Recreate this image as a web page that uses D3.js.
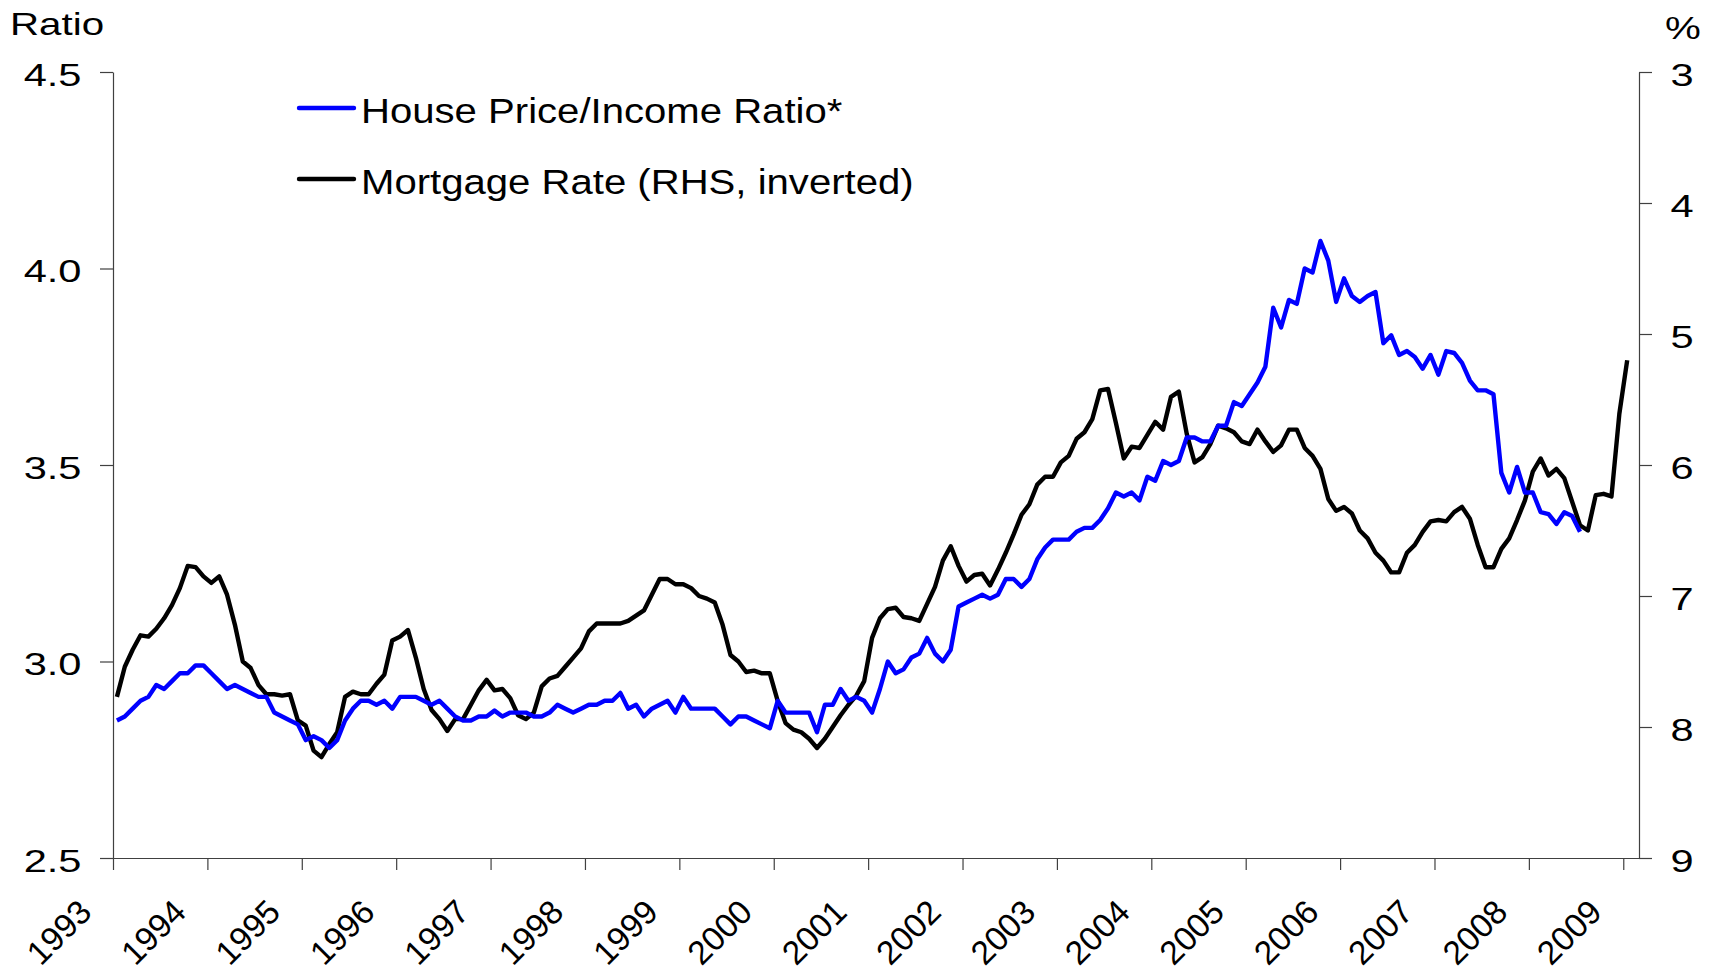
<!DOCTYPE html>
<html>
<head>
<meta charset="utf-8">
<script src="https://cdn.jsdelivr.net/npm/d3@7"></script>
<style>
  body { margin: 0; background: #fff; }
  text { font-family: "Liberation Sans", Arial, sans-serif; fill: #000; }
</style>
</head>
<body>
<div class="chart"></div>
<script>
var svgWidth = 1713;
var svgHeight = 974;

var margin = { top: 72, right: 74, bottom: 116, left: 113 };
var width = svgWidth - margin.left - margin.right;
var height = svgHeight - margin.top - margin.bottom;

// monthly data, first point = Jan 1993
var startYear = 1993;

// house price / income ratio (left axis)
var ratio = [
  2.85, 2.86, 2.88, 2.90, 2.91, 2.94, 2.93, 2.95, 2.97, 2.97, 2.99, 2.99,
  2.97, 2.95, 2.93, 2.94, 2.93, 2.92, 2.91, 2.91, 2.87, 2.86, 2.85, 2.84,
  2.80, 2.81, 2.80, 2.78, 2.80, 2.85, 2.88, 2.90, 2.90, 2.89, 2.90, 2.88,
  2.91, 2.91, 2.91, 2.90, 2.89, 2.90, 2.88, 2.86, 2.85, 2.85, 2.86, 2.86,
  2.875, 2.86, 2.87, 2.87, 2.87, 2.86, 2.86, 2.87, 2.89, 2.88, 2.87, 2.88,
  2.89, 2.89, 2.90, 2.90, 2.92, 2.88, 2.89, 2.86, 2.88, 2.89, 2.90, 2.87,
  2.91, 2.88, 2.88, 2.88, 2.88, 2.86, 2.84, 2.86, 2.86, 2.85, 2.84, 2.83,
  2.90, 2.87, 2.87, 2.87, 2.87, 2.82, 2.89, 2.89, 2.93, 2.90, 2.91, 2.90,
  2.87, 2.93, 3.00, 2.97, 2.98, 3.01, 3.02, 3.06, 3.02, 3.00, 3.03, 3.14,
  3.15, 3.16, 3.17, 3.16, 3.17, 3.21, 3.21, 3.19, 3.21, 3.26, 3.29, 3.31,
  3.31, 3.31, 3.33, 3.34, 3.34, 3.36, 3.39, 3.43, 3.42, 3.43, 3.41, 3.47,
  3.46, 3.51, 3.50, 3.51, 3.57, 3.57, 3.56, 3.56, 3.60, 3.60, 3.66, 3.65,
  3.68, 3.71, 3.75, 3.90, 3.85, 3.92, 3.91, 4.00, 3.99, 4.07, 4.02, 3.915,
  3.975, 3.93, 3.915, 3.93, 3.94, 3.81, 3.83, 3.78, 3.79, 3.775, 3.745, 3.78,
  3.73, 3.79, 3.785, 3.76, 3.715, 3.69, 3.69, 3.68, 3.48, 3.43, 3.495, 3.43,
  3.43, 3.38, 3.375, 3.35, 3.38, 3.37, 3.33
];

// mortgage rate, % (right axis, inverted)
var mortgage = [
  7.77, 7.54, 7.41, 7.30, 7.31, 7.25, 7.17, 7.07, 6.94, 6.77, 6.78, 6.85,
  6.90, 6.85, 6.99, 7.22, 7.50, 7.55, 7.68, 7.75, 7.75, 7.76, 7.75, 7.95,
  7.99, 8.18, 8.23, 8.13, 8.04, 7.77, 7.73, 7.75, 7.75, 7.67, 7.60, 7.34,
  7.31, 7.26, 7.47, 7.71, 7.87, 7.94, 8.03, 7.94, 7.94, 7.83, 7.72, 7.64,
  7.72, 7.71, 7.78, 7.91, 7.94, 7.89, 7.69, 7.63, 7.61, 7.54, 7.47, 7.40,
  7.27, 7.21, 7.21, 7.21, 7.21, 7.19, 7.15, 7.11, 6.99, 6.87, 6.87, 6.91,
  6.91, 6.94, 7.00, 7.02, 7.05, 7.22, 7.45, 7.50, 7.58, 7.57, 7.59, 7.59,
  7.80, 7.97, 8.02, 8.04, 8.09, 8.16, 8.09, 8.00, 7.91, 7.83, 7.76, 7.65,
  7.32, 7.17, 7.10, 7.09, 7.16, 7.17, 7.19, 7.06, 6.93, 6.73, 6.62, 6.77,
  6.89, 6.84, 6.83, 6.92, 6.80, 6.67, 6.53, 6.38, 6.30, 6.15, 6.09, 6.09,
  5.98, 5.93, 5.80, 5.75, 5.65, 5.43, 5.42, 5.68, 5.95, 5.86, 5.87, 5.77,
  5.67, 5.73, 5.48, 5.44, 5.76, 5.98, 5.94, 5.84, 5.70, 5.72, 5.75, 5.82,
  5.84, 5.73, 5.82, 5.90, 5.85, 5.73, 5.73, 5.87, 5.93, 6.03, 6.26, 6.35,
  6.32, 6.37, 6.50, 6.56, 6.67, 6.73, 6.82, 6.82, 6.67, 6.61, 6.51, 6.43,
  6.42, 6.43, 6.36, 6.32, 6.41, 6.61, 6.78, 6.78, 6.64, 6.56, 6.42, 6.27,
  6.05, 5.95, 6.08, 6.03, 6.10, 6.28, 6.46, 6.50, 6.23, 6.22, 6.24, 5.61,
  5.20
];

var yearTicks = d3.range(1993, 2010);
var leftTicks = [2.5, 3.0, 3.5, 4.0, 4.5];
var rightTicks = [3, 4, 5, 6, 7, 8, 9];
var seriesNames = ["House Price/Income Ratio*", "Mortgage Rate (RHS, inverted)"];
var seriesColors = ["#0000ff", "#000000"];

var svg = d3.select(".chart")
  .append("svg")
  .attr("width", svgWidth)
  .attr("height", svgHeight);

var chartGroup = svg.append("g")
  .attr("transform", `translate(${margin.left}, ${margin.top})`);

// scales
var xScale = d3.scaleLinear()
  .domain([startYear, 2009 + 2 / 12])
  .range([0, width]);

var yLeft = d3.scaleLinear()
  .domain([2.5, 4.5])
  .range([height, 0]);

var yRight = d3.scaleLinear()
  .domain([3, 9])
  .range([0, height]);

function monthPos(i) {
  return xScale(startYear + (i + 0.5) / 12);
}

// axes
var axisColor = "#404040";
var labelStretch = 1.3;

var bottomAxis = d3.axisBottom(xScale)
  .tickValues(yearTicks)
  .tickSize(12)
  .tickSizeOuter(0)
  .tickFormat(d3.format("d"));

var xAxis = chartGroup.append("g")
  .attr("transform", `translate(0, ${height})`)
  .call(bottomAxis);

xAxis.selectAll("text")
  .attr("x", null)
  .attr("y", null)
  .attr("dy", null)
  .attr("text-anchor", "end")
  .attr("transform", "translate(-20, 56) rotate(-45)")
  .style("font-size", "33.5px");

var leftAxis = d3.axisLeft(yLeft)
  .tickValues(leftTicks)
  .tickSize(13)
  .tickSizeOuter(0)
  .tickFormat(d3.format(".1f"));

var yAxisL = chartGroup.append("g").call(leftAxis);

yAxisL.selectAll("text")
  .attr("x", -31.5 / labelStretch)
  .attr("dy", "0.42em")
  .attr("transform", `scale(${labelStretch}, 1)`)
  .style("font-size", "32px");

var rightAxis = d3.axisRight(yRight)
  .tickValues(rightTicks)
  .tickSize(13)
  .tickSizeOuter(0)
  .tickFormat(d3.format("d"));

var yAxisR = chartGroup.append("g")
  .attr("transform", `translate(${width}, 0)`)
  .call(rightAxis);

yAxisR.selectAll("text")
  .attr("x", 31.5 / labelStretch)
  .attr("dy", "0.42em")
  .attr("transform", `scale(${labelStretch}, 1)`)
  .style("font-size", "32px");

svg.selectAll(".domain, .tick line")
  .attr("stroke", axisColor)
  .attr("stroke-width", 1.2);
svg.selectAll(".tick text").attr("fill", "#000");

// axis titles
svg.append("text")
  .attr("transform", `translate(10, 35) scale(${labelStretch}, 1)`)
  .style("font-size", "31px")
  .text("Ratio");

svg.append("text")
  .attr("transform", `translate(1665, 39) scale(${labelStretch}, 1)`)
  .style("font-size", "31px")
  .text("%");

// lines
var mortgageLine = d3.line()
  .x((d, i) => monthPos(i))
  .y(d => yRight(d));

var ratioLine = d3.line()
  .x((d, i) => monthPos(i))
  .y(d => yLeft(d));

chartGroup.append("path")
  .datum(mortgage)
  .attr("fill", "none")
  .attr("stroke", seriesColors[1])
  .attr("stroke-width", 4.4)
  .attr("stroke-linejoin", "round")
  .attr("d", mortgageLine);

chartGroup.append("path")
  .datum(ratio)
  .attr("fill", "none")
  .attr("stroke", seriesColors[0])
  .attr("stroke-width", 4.4)
  .attr("stroke-linejoin", "round")
  .attr("d", ratioLine);

// legend
var legend = svg.append("g")
  .attr("transform", "translate(299, 108)");

var legendItems = legend.selectAll("g")
  .data(seriesNames)
  .enter()
  .append("g")
  .attr("transform", (d, i) => `translate(0, ${i * 71})`);

legendItems.append("line")
  .attr("x1", 0)
  .attr("x2", 55)
  .attr("stroke", (d, i) => seriesColors[i])
  .attr("stroke-width", 4.4)
  .attr("stroke-linecap", "round");

legendItems.append("text")
  .attr("transform", "translate(62, 14.5) scale(1.13, 1)")
  .style("font-size", "35.5px")
  .text(d => d);
</script>
</body>
</html>
